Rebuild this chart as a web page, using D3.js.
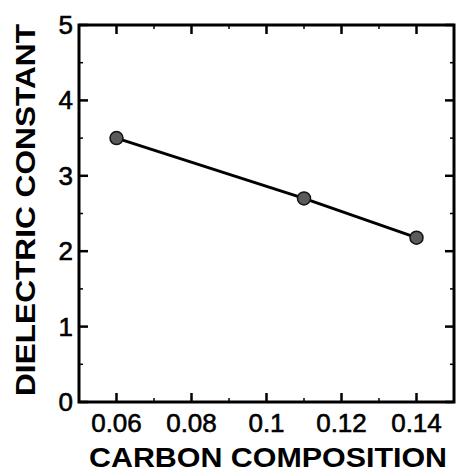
<!DOCTYPE html>
<html>
<head>
<meta charset="utf-8">
<script src="https://cdn.jsdelivr.net/npm/d3@7"></script>
<style>
  body { margin: 0; background: #fff; }
  svg { display: block; }
</style>
</head>
<body>
<svg id="chart" width="459" height="473"></svg>
<script>
const carbon = [0.06, 0.11, 0.14];
const dielectric = [3.5, 2.7, 2.18];
const xTicks = [0.06, 0.08, 0.1, 0.12, 0.14];
const xTickLabels = ["0.06", "0.08", "0.1", "0.12", "0.14"];
const xMinor = [0.05, 0.07, 0.09, 0.11, 0.13, 0.15];
const yTicks = [0, 1, 2, 3, 4, 5];
const yMinor = [0.5, 1.5, 2.5, 3.5, 4.5];

const svg = d3.select("#chart");
const pLeft = 79, pRight = 454, pTop = 25, pBottom = 402;

const x = d3.scaleLinear().domain([0.05, 0.15]).range([pLeft, pRight]);
const y = d3.scaleLinear().domain([0, 5]).range([pBottom, pTop]);

const font = "Liberation Sans, Arial, sans-serif";

// ticks, inward on all four sides
const tk = svg.append("g").attr("stroke", "#000");
function vtick(v, len, w) {
  tk.append("line").attr("x1", x(v)).attr("x2", x(v)).attr("y1", pBottom).attr("y2", pBottom - len).attr("stroke-width", w);
  tk.append("line").attr("x1", x(v)).attr("x2", x(v)).attr("y1", pTop).attr("y2", pTop + len).attr("stroke-width", w);
}
function htick(v, len, w) {
  tk.append("line").attr("x1", pLeft).attr("x2", pLeft + len).attr("y1", y(v)).attr("y2", y(v)).attr("stroke-width", w);
  tk.append("line").attr("x1", pRight).attr("x2", pRight - len).attr("y1", y(v)).attr("y2", y(v)).attr("stroke-width", w);
}
xTicks.forEach(v => vtick(v, 9, 2.5));
xMinor.forEach(v => vtick(v, 4, 1.5));
yTicks.forEach(v => htick(v, 9, 2.5));
yMinor.forEach(v => htick(v, 4, 1.5));

// frame
svg.append("rect")
  .attr("x", pLeft).attr("y", pTop)
  .attr("width", pRight - pLeft).attr("height", pBottom - pTop)
  .attr("fill", "none").attr("stroke", "#000").attr("stroke-width", 3);

// tick labels
svg.append("g").selectAll("text").data(xTicks).join("text")
  .attr("x", d => x(d)).attr("y", 432)
  .attr("text-anchor", "middle")
  .attr("font-family", font).attr("font-size", 26)
  .attr("stroke", "#000").attr("stroke-width", 0.6)
  .text((d, i) => xTickLabels[i]);

svg.append("g").selectAll("text").data(yTicks).join("text")
  .attr("x", 73).attr("y", d => y(d) + 9)
  .attr("text-anchor", "end")
  .attr("font-family", font).attr("font-size", 26)
  .attr("stroke", "#000").attr("stroke-width", 0.6)
  .text(d => d);

// axis titles
svg.append("text")
  .attr("x", 268).attr("y", 467)
  .attr("text-anchor", "middle")
  .attr("font-family", font).attr("font-size", 27).attr("font-weight", "bold")
  .attr("textLength", 358).attr("lengthAdjust", "spacingAndGlyphs")
  .text("CARBON COMPOSITION");

svg.append("text")
  .attr("transform", "translate(35,210) rotate(-90)")
  .attr("text-anchor", "middle")
  .attr("font-family", font).attr("font-size", 28).attr("font-weight", "bold")
  .attr("textLength", 372).attr("lengthAdjust", "spacingAndGlyphs")
  .text("DIELECTRIC CONSTANT");

// series
const pts = carbon.map((c, i) => [c, dielectric[i]]);
svg.append("path")
  .datum(pts)
  .attr("fill", "none").attr("stroke", "#000").attr("stroke-width", 3)
  .attr("d", d3.line().x(d => x(d[0])).y(d => y(d[1])));

svg.append("g").selectAll("circle").data(pts).join("circle")
  .attr("cx", d => x(d[0])).attr("cy", d => y(d[1]))
  .attr("r", 6.5)
  .attr("fill", "#5a5a5a").attr("stroke", "#111").attr("stroke-width", 1.5);
</script>
</body>
</html>
